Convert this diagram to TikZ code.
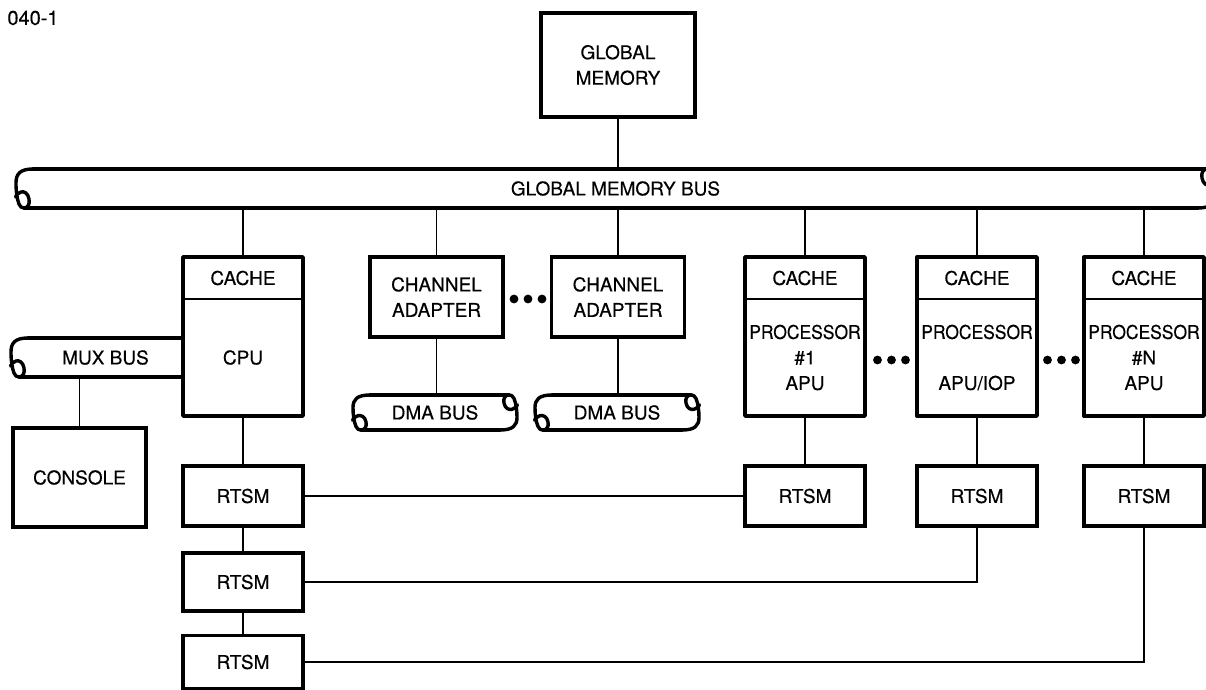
\documentclass[tikz,border=0pt]{standalone}
\usepackage{fontspec}
\usepackage{graphicx}
\setmainfont{TeX Gyre Heros}[FakeBold=0.3]
\usetikzlibrary{positioning,calc}

\newcommand{\lblfont}{\fontsize{9.5}{12.75}\selectfont}
\newcommand{\narrow}[1]{\scalebox{0.92}[1]{#1}}
% curled end of a bus cable, #2 = corner, #3 = angle, #1 = height factor
\newcommand{\pipeend}[3][1]{%
  \begin{scope}[shift={(#2)},rotate=#3,yscale=#1]
    \draw[pipe] (0,0) .. controls (-13,0) and (-17,5) .. (-17,14)
      .. controls (-17,22) and (-16,30) .. (-14,35)
      .. controls (-13,38) and (-11,39) .. (-9,39)
      .. controls (-5,39) and (-3,35) .. (-4,30)
      .. controls (-5,24) and (-9,22) .. (-12,23)
      .. controls (-15,24) and (-17,26) .. (-17.5,28);
  \end{scope}}

\begin{document}
\begin{tikzpicture}[x=0.5pt,y=-0.5pt,
    box/.style={draw,line width=1.7pt,inner sep=0pt,outer sep=0pt,align=center,font=\lblfont},
    part/.style={inner sep=0pt,outer sep=0pt,align=center,font=\lblfont,minimum width=60pt},
    bus/.style={inner sep=0pt,outer sep=0pt,font=\lblfont},
    pipe/.style={line width=1.7pt,line cap=round,line join=round},
    wire/.style={line width=0.9pt},
    divider/.style={line width=1.1pt}]
\useasboundingbox (0,0) rectangle (1206,690);

\node[font=\fontsize{10}{12}\selectfont] (fig) at (33,18) {040-1};

% memory and its bus
\node[box,minimum width=77pt,minimum height=52pt] (gm) at (618,65) {GLOBAL\\MEMORY};
\node[bus,minimum width=582.5pt,minimum height=19.5pt] (gmb) at (615.5,188.5) {GLOBAL MEMORY BUS};
\draw[pipe] (gmb.north west) -- ([xshift=4.5pt]gmb.north east);
\draw[pipe] ([xshift=-4.5pt]gmb.south west) -- (gmb.south east);
\pipeend{gmb.north west}{0}
\pipeend{gmb.south east}{180}

% cpu with cache
\node[part,minimum height=21pt] (cpucache) at (243,278) {CACHE};
\node[part,minimum height=58.5pt,below=0pt of cpucache] (cpu) {CPU};
\draw[pipe] (cpucache.north west) rectangle (cpu.south east);
\draw[divider] (cpucache.south west) -- (cpucache.south east);

% mux bus and console
\node[bus,minimum width=77.5pt,minimum height=19.5pt] (mux) at (105.5,357.5) {MUX BUS\hspace{5pt}};
\draw[pipe] (mux.north west) -- (mux.north east);
\draw[pipe] ([xshift=-4.5pt]mux.south west) -- (mux.south east);
\pipeend{mux.north west}{0}
\node[box,minimum width=66.5pt,minimum height=49.5pt] (console) at (79.5,477.5) {CONSOLE};

% channel adapters
\node[box,minimum width=66.5pt,minimum height=40pt] (ca1) at (436.5,297) {CHANNEL\\ADAPTER};
\node[box,minimum width=66.5pt,minimum height=40pt] (ca2) at (618,297) {CHANNEL\\ADAPTER};
\coordinate (dots1) at (528,299);
\node[bus,minimum width=65pt,minimum height=17.5pt] (dma1) at (435,412.5) {DMA BUS};
\node[bus,minimum width=65pt,minimum height=17.5pt] (dma2) at (617,412.5) {DMA BUS};
\draw[pipe] (dma1.north west) -- ([xshift=4.5pt]dma1.north east);
\draw[pipe] ([xshift=-4.5pt]dma1.south west) -- (dma1.south east);
\draw[pipe] (dma2.north west) -- ([xshift=4.5pt]dma2.north east);
\draw[pipe] ([xshift=-4.5pt]dma2.south west) -- (dma2.south east);
\pipeend[0.9]{dma1.north west}{0}
\pipeend[0.9]{dma1.south east}{180}
\pipeend[0.9]{dma2.north west}{0}
\pipeend[0.9]{dma2.south east}{180}

% processors with caches
\node[part,minimum height=21pt] (cache1) at (805,278) {CACHE};
\node[part,minimum height=58.5pt,below=0pt of cache1] (proc1) {\narrow{PROCESSOR}\\\#1\\APU};
\node[part,minimum height=21pt] (cache2) at (977,278) {CACHE};
\node[part,minimum height=58.5pt,below=0pt of cache2] (proc2) {\narrow{PROCESSOR}\\\mbox{}\\APU/IOP};
\node[part,minimum height=21pt] (cachen) at (1144,278) {CACHE};
\node[part,minimum height=58.5pt,below=0pt of cachen] (procn) {\narrow{PROCESSOR}\\\#N\\APU};
\draw[pipe] (cache1.north west) rectangle (proc1.south east);
\draw[pipe] (cache2.north west) rectangle (proc2.south east);
\draw[pipe] (cachen.north west) rectangle (procn.south east);
\draw[divider] (cache1.south west) -- (cache1.south east);
\draw[divider] (cache2.south west) -- (cache2.south east);
\draw[divider] (cachen.south west) -- (cachen.south east);
\coordinate (dots2) at (891.5,360);
\coordinate (dots3) at (1061.5,360);
\foreach \d in {-14,0,14} {
  \fill ([xshift=\d*0.5pt]dots1) circle (2.2pt);
  \fill ([xshift=\d*0.5pt]dots2) circle (2.2pt);
  \fill ([xshift=\d*0.5pt]dots3) circle (2.2pt);
}

% rtsm units
\node[box,minimum width=60pt,minimum height=30pt] (rtsm0a) at (243,496) {RTSM};
\node[box,minimum width=60pt,minimum height=29pt] (rtsm0b) at (243,582) {RTSM};
\node[box,minimum width=60pt,minimum height=26.5pt] (rtsm0c) at (243,662) {RTSM};
\node[box,minimum width=60pt,minimum height=30pt] (rtsm1) at (805,496) {RTSM};
\node[box,minimum width=60pt,minimum height=30pt] (rtsm2) at (977,496) {RTSM};
\node[box,minimum width=60pt,minimum height=30pt] (rtsmn) at (1144,496) {RTSM};

% connections
\draw[wire] (gm) -- (gm |- gmb.north);
\draw[wire] (cpucache) -- (cpucache |- gmb.south);
\draw[wire] (ca1) -- (ca1 |- gmb.south);
\draw[wire] (ca2) -- (ca2 |- gmb.south);
\draw[wire] (cache1) -- (cache1 |- gmb.south);
\draw[wire] (cache2) -- (cache2 |- gmb.south);
\draw[wire] (cachen) -- (cachen |- gmb.south);
\draw[wire] (ca1) -- (ca1 |- dma1.north);
\draw[wire] (ca2) -- (ca2 |- dma2.north);
\draw[wire] (mux.south -| console) -- (console);
\draw[wire] (cpu) -- (rtsm0a);
\draw[wire] (rtsm0a) -- (rtsm0b);
\draw[wire] (rtsm0b) -- (rtsm0c);
\draw[wire] (proc1) -- (rtsm1);
\draw[wire] (proc2) -- (rtsm2);
\draw[wire] (procn) -- (rtsmn);
\draw[wire] (rtsm0a) -- (rtsm1);
\draw[wire] (rtsm0b) -| (rtsm2);
\draw[wire] (rtsm0c) -| (rtsmn);
\end{tikzpicture}
\end{document}
